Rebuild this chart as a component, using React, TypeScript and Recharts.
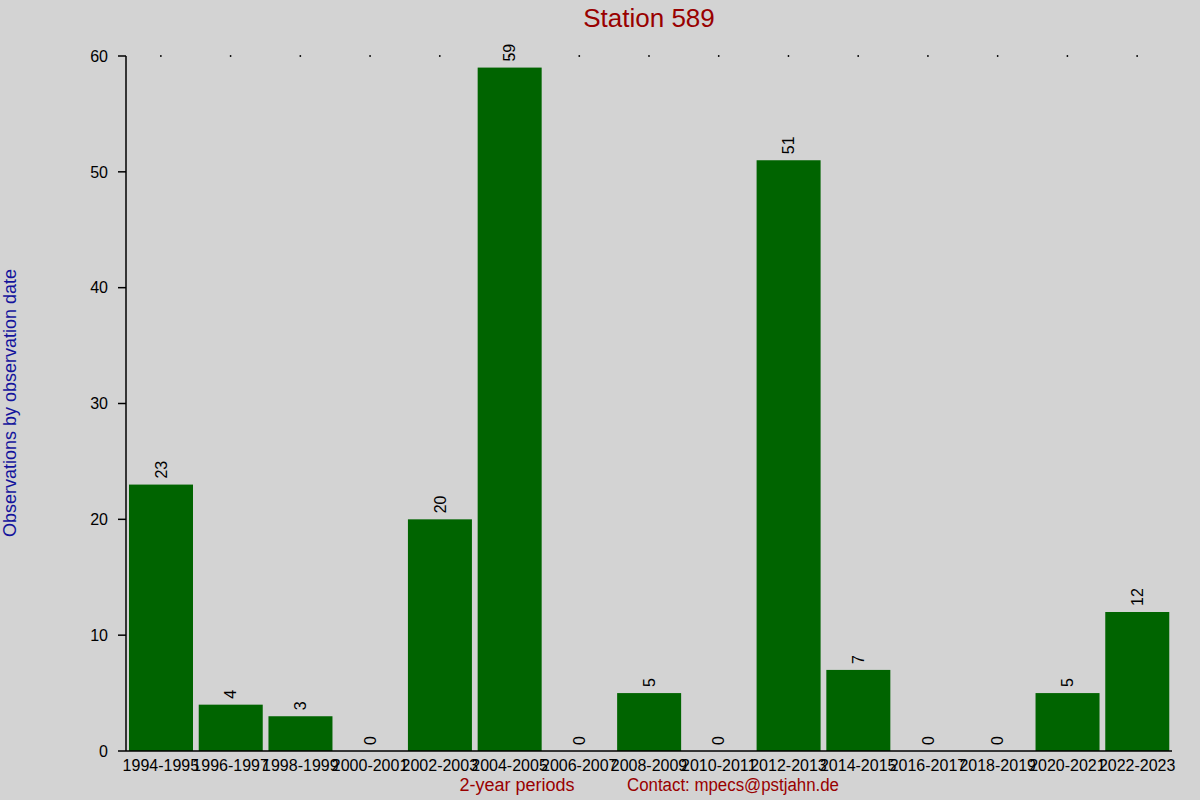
import { BarChart, Bar, XAxis, YAxis, Customized } from 'recharts'

const periods = [
  '1994-1995', '1996-1997', '1998-1999', '2000-2001', '2002-2003',
  '2004-2005', '2006-2007', '2008-2009', '2010-2011', '2012-2013',
  '2014-2015', '2016-2017', '2018-2019', '2020-2021', '2022-2023',
]
const observations = [23, 4, 3, 0, 20, 59, 0, 5, 0, 51, 7, 0, 0, 5, 12]
const yTicks = [0, 10, 20, 30, 40, 50, 60]

const chartTitle = 'Station 589'
const xTitle = '2-year periods'
const contactText = 'Contact: mpecs@pstjahn.de'
const yTitle = 'Observations by observation date'

const data = periods.map((period, i) => ({ period, count: observations[i] }))

const font = '"Liberation Sans", Arial, sans-serif'
const red = '#990000'
const blue = '#14149c'

// bar plus its rotated value label, so zero-height bars still get a "0"
const BarWithLabel = (props: any) => {
  const { x, y, width, height, fill, value } = props
  const v = Array.isArray(value) ? value[1] - value[0] : value
  const cx = x + width / 2
  const ty = y - 6
  return (
    <g>
      {height > 0 && <rect x={x} y={y} width={width} height={height} fill={fill} />}
      <text
        x={cx}
        y={ty}
        dy="0.35em"
        transform={`rotate(-90, ${cx}, ${ty})`}
        textAnchor="start"
        fontSize={16}
        fontFamily={font}
        fill="#000"
      >
        {v}
      </text>
    </g>
  )
}

const renderTopDot = (props: any) => (
  <circle key={props.index} cx={props.x} cy={56} r={0.9} fill="#000" />
)

const Titles = () => (
  <g fontFamily={font}>
    <text x={649} y={27} textAnchor="middle" fontSize={26} fill={red}>
      {chartTitle}
    </text>
    <text x={517} y={791} textAnchor="middle" fontSize={18} fill={red}>
      {xTitle}
    </text>
    <text x={733} y={791} textAnchor="middle" fontSize={18} fill={red} textLength={212} lengthAdjust="spacingAndGlyphs">
      {contactText}
    </text>
    <text
      x={16}
      y={403}
      textAnchor="middle"
      fontSize={18}
      fill={blue}
      transform="rotate(-90, 16, 403)"
    >
      {yTitle}
    </text>
  </g>
)

export default function App() {
  return (
    <div style={{ position: 'absolute', left: 0, top: 0, width: 1200, height: 800, background: '#d3d3d3' }}>
      <BarChart
        width={1200}
        height={800}
        data={data}
        margin={{ top: 46, right: 28, bottom: 19, left: 76 }}
      >
        <XAxis
          dataKey="period"
          interval={0}
          height={30}
          tickSize={0}
          tickMargin={9}
          tickLine={false}
          axisLine={{ stroke: '#000', strokeWidth: 1.5 }}
          tick={{ fill: '#000', fontSize: 16, fontFamily: font }}
        />
        <XAxis
          xAxisId="top"
          dataKey="period"
          orientation="top"
          height={10}
          interval={0}
          tickSize={0}
          tickMargin={0}
          tick={renderTopDot}
          axisLine={false}
          tickLine={false}
        />
        <YAxis
          width={50}
          domain={[0, 60]}
          ticks={yTicks}
          tickSize={8}
          tickMargin={10}
          axisLine={{ stroke: '#000', strokeWidth: 1.5 }}
          tickLine={{ stroke: '#000', strokeWidth: 1.5 }}
          tick={{ fill: '#000', fontSize: 16, fontFamily: font }}
        />
        <Bar
          dataKey="count"
          fill="#006400"
          barSize={64}
          isAnimationActive={false}
          shape={<BarWithLabel />}
        />
        <Customized component={Titles} />
      </BarChart>
    </div>
  )
}
